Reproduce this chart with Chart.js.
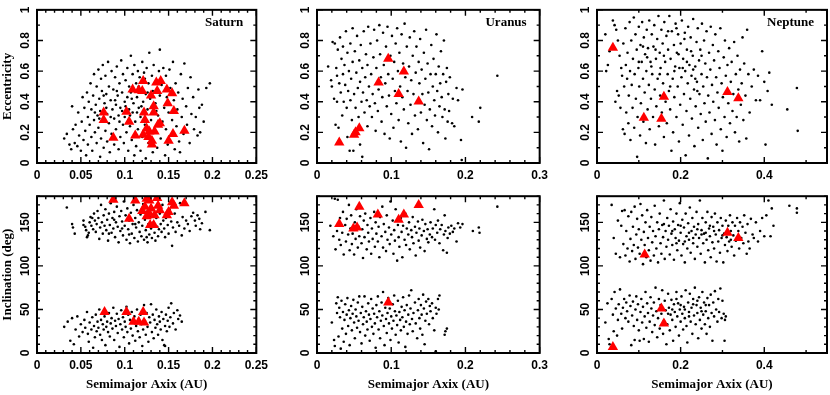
<!DOCTYPE html>
<html lang="en">
<head>
<meta charset="UTF-8">
<title>Irregular satellites: a vs e and i</title>
<script src="https://cdn.jsdelivr.net/npm/chart.js"></script>
<style>
  html, body { margin: 0; padding: 0; background: #fff; }
  #figure { position: relative; width: 830px; height: 395px; overflow: hidden; }
  #figure canvas { position: absolute; }
</style>
</head>
<body>
<div id="figure"></div>
<script>
// ---- tick values ----
const saturnXTicks = [0, 0.05, 0.1, 0.15, 0.2, 0.25];
const uranusXTicks = [0, 0.1, 0.2, 0.3];
const neptuneXTicks = [0, 0.2, 0.4];
const eccTicks = [0, 0.2, 0.4, 0.6, 0.8, 1];
const incTicks = [0, 50, 100, 150];

// ---- Saturn: [a (AU), e] ----
const saturnEccDots = [[0.031,0.16],[0.034,0.19],[0.037,0.12],[0.039,0.09],[0.040,0.37],[0.041,0.22],[0.043,0.13],[0.044,0.25],[0.046,0.11],[0.047,0.33],[0.048,0.18],[0.050,0.08],[0.051,0.27],[0.052,0.43],[0.053,0.15],[0.054,0.36],[0.055,0.21],[0.056,0.05],[0.057,0.46],[0.058,0.30],[0.058,0.12],[0.059,0.40],[0.060,0.25],[0.061,0.52],[0.062,0.17],[0.062,0.35],[0.063,0.08],[0.064,0.44],[0.065,0.28],[0.065,0.58],[0.066,0.20],[0.067,0.38],[0.068,0.13],[0.068,0.50],[0.069,0.31],[0.070,0.61],[0.070,0.23],[0.071,0.42],[0.072,0.04],[0.072,0.34],[0.073,0.55],[0.073,0.16],[0.074,0.47],[0.075,0.27],[0.075,0.64],[0.076,0.10],[0.077,0.39],[0.078,0.21],[0.078,0.57],[0.079,0.45],[0.080,0.32],[0.080,0.14],[0.081,0.66],[0.082,0.50],[0.082,0.26],[0.083,0.07],[0.084,0.41],[0.085,0.60],[0.085,0.19],[0.086,0.35],[0.087,0.48],[0.088,0.29],[0.088,0.12],[0.089,0.56],[0.090,0.38],[0.090,0.22],[0.091,0.63],[0.092,0.44],[0.093,0.31],[0.093,0.09],[0.094,0.52],[0.095,0.17],[0.095,0.36],[0.096,0.67],[0.097,0.46],[0.098,0.25],[0.098,0.58],[0.099,0.13],[0.100,0.40],[0.100,0.30],[0.101,0.54],[0.102,0.20],[0.103,0.62],[0.103,0.43],[0.104,0.08],[0.105,0.35],[0.105,0.50],[0.106,0.24],[0.107,0.70],[0.107,0.46],[0.108,0.15],[0.109,0.58],[0.109,0.33],[0.110,0.39],[0.111,0.05],[0.111,0.64],[0.112,0.27],[0.113,0.52],[0.113,0.11],[0.114,0.43],[0.115,0.22],[0.115,0.60],[0.116,0.36],[0.117,0.56],[0.118,0.08],[0.118,0.30],[0.119,0.48],[0.120,0.66],[0.120,0.17],[0.121,0.40],[0.122,0.59],[0.123,0.25],[0.124,0.45],[0.124,0.03],[0.125,0.62],[0.126,0.35],[0.127,0.13],[0.127,0.52],[0.128,0.72],[0.129,0.42],[0.130,0.28],[0.131,0.57],[0.132,0.07],[0.132,0.47],[0.133,0.64],[0.134,0.20],[0.135,0.39],[0.136,0.54],[0.137,0.10],[0.138,0.31],[0.139,0.60],[0.140,0.74],[0.140,0.44],[0.141,0.16],[0.142,0.51],[0.143,0.27],[0.144,0.62],[0.145,0.36],[0.146,0.05],[0.147,0.57],[0.147,0.22],[0.148,0.43],[0.149,0.12],[0.150,0.33],[0.151,0.61],[0.152,0.49],[0.153,0.18],[0.154,0.28],[0.155,0.66],[0.156,0.41],[0.157,0.09],[0.158,0.52],[0.159,0.24],[0.160,0.35],[0.161,0.46],[0.162,0.14],[0.163,0.07],[0.164,0.58],[0.165,0.30],[0.166,0.42],[0.167,0.19],[0.168,0.65],[0.170,0.37],[0.171,0.25],[0.172,0.49],[0.174,0.13],[0.175,0.56],[0.176,0.32],[0.178,0.43],[0.179,0.22],[0.181,0.30],[0.183,0.18],[0.184,0.48],[0.185,0.36],[0.186,0.20],[0.188,0.38],[0.190,0.27],[0.193,0.49],[0.197,0.52],[0.066,0.33],[0.071,0.29],[0.079,0.36],[0.084,0.30],[0.091,0.47],[0.097,0.34],[0.104,0.28],[0.108,0.42],[0.114,0.33],[0.119,0.37],[0.126,0.46],[0.136,0.34],[0.089,0.41],[0.101,0.37],[0.076,0.44],[0.116,0.50],[0.123,0.55],[0.131,0.37],[0.094,0.27],[0.106,0.31]];
const saturnEccTri = [[0.076,0.33],[0.076,0.28],[0.087,0.165],[0.102,0.334],[0.105,0.27],[0.109,0.48],[0.116,0.475],[0.120,0.47],[0.112,0.18],[0.121,0.535],[0.122,0.33],[0.123,0.28],[0.125,0.225],[0.121,0.185],[0.127,0.17],[0.130,0.44],[0.131,0.145],[0.131,0.12],[0.128,0.205],[0.133,0.37],[0.133,0.33],[0.136,0.525],[0.137,0.47],[0.141,0.535],[0.138,0.25],[0.134,0.205],[0.148,0.48],[0.149,0.39],[0.154,0.455],[0.156,0.34],[0.155,0.19],[0.150,0.145],[0.168,0.21],[0.140,0.26]];

// ---- Saturn: [a (AU), i (deg)] ----
const saturnIncDots = [[0.034,167],[0.040,148],[0.041,144],[0.043,137],[0.053,152],[0.055,145],[0.056,141],[0.058,135],[0.059,138],[0.060,150],[0.061,156],[0.062,146],[0.064,142],[0.065,160],[0.066,152],[0.067,139],[0.068,148],[0.069,163],[0.070,155],[0.071,131],[0.072,144],[0.073,170],[0.074,150],[0.075,137],[0.076,158],[0.077,146],[0.078,165],[0.079,141],[0.080,153],[0.081,129],[0.082,160],[0.083,147],[0.084,172],[0.085,138],[0.086,155],[0.087,143],[0.088,162],[0.089,133],[0.090,150],[0.091,168],[0.092,145],[0.093,127],[0.094,157],[0.095,140],[0.096,163],[0.097,151],[0.098,135],[0.099,174],[0.100,146],[0.101,158],[0.102,130],[0.103,166],[0.104,142],[0.105,152],[0.106,126],[0.107,161],[0.108,137],[0.109,148],[0.110,170],[0.111,132],[0.112,155],[0.113,144],[0.114,164],[0.115,128],[0.116,150],[0.117,139],[0.118,159],[0.119,134],[0.120,146],[0.121,171],[0.122,130],[0.123,153],[0.124,141],[0.125,162],[0.126,127],[0.127,148],[0.128,136],[0.129,157],[0.130,143],[0.131,132],[0.132,166],[0.133,150],[0.134,138],[0.135,129],[0.136,155],[0.137,145],[0.138,134],[0.140,160],[0.141,148],[0.142,139],[0.143,170],[0.144,152],[0.145,143],[0.146,133],[0.148,158],[0.149,147],[0.150,137],[0.151,165],[0.153,151],[0.154,123],[0.155,144],[0.157,160],[0.158,139],[0.160,150],[0.162,146],[0.163,172],[0.165,135],[0.166,156],[0.168,143],[0.170,152],[0.172,148],[0.174,140],[0.176,157],[0.178,161],[0.180,152],[0.181,146],[0.183,158],[0.185,154],[0.186,142],[0.188,149],[0.192,162],[0.197,141],[0.053,147],[0.057,133],[0.063,155],[0.082,137],[0.088,153],[0.097,143],[0.105,136],[0.112,148],[0.125,133],[0.139,142],[0.147,155],
  [0.031,30],[0.035,36],[0.038,14],[0.040,40],[0.042,10],[0.044,27],[0.046,42],[0.048,19],[0.050,33],[0.052,24],[0.054,38],[0.055,29],[0.057,47],[0.058,22],[0.059,13],[0.060,35],[0.062,27],[0.063,41],[0.064,6],[0.065,31],[0.066,18],[0.067,44],[0.068,25],[0.069,36],[0.070,29],[0.071,50],[0.072,21],[0.073,38],[0.074,15],[0.075,33],[0.076,27],[0.077,42],[0.078,9],[0.079,30],[0.080,36],[0.081,24],[0.082,46],[0.083,19],[0.084,34],[0.085,40],[0.086,28],[0.087,52],[0.088,15],[0.089,37],[0.090,31],[0.091,45],[0.092,23],[0.093,39],[0.094,7],[0.095,33],[0.096,49],[0.097,27],[0.098,41],[0.099,18],[0.100,36],[0.101,30],[0.102,53],[0.103,24],[0.104,44],[0.105,11],[0.106,38],[0.107,28],[0.108,47],[0.109,20],[0.110,35],[0.111,42],[0.112,14],[0.113,31],[0.114,50],[0.115,25],[0.116,39],[0.117,18],[0.118,44],[0.119,33],[0.120,8],[0.121,27],[0.122,55],[0.123,37],[0.124,21],[0.125,46],[0.126,30],[0.127,13],[0.128,41],[0.129,35],[0.130,56],[0.131,24],[0.132,44],[0.133,17],[0.134,38],[0.135,29],[0.136,50],[0.137,33],[0.138,21],[0.139,42],[0.140,36],[0.141,27],[0.142,47],[0.143,15],[0.144,39],[0.145,9],[0.146,31],[0.147,44],[0.148,25],[0.149,37],[0.150,52],[0.151,30],[0.152,41],[0.153,57],[0.155,34],[0.156,46],[0.158,27],[0.160,49],[0.161,39],[0.163,43],[0.165,36],[0.146,8]];
const saturnIncTri = [[0.087,176],[0.112,175],[0.105,154],[0.125,177],[0.128,175],[0.137,178],[0.120,163],[0.123,168],[0.130,166],[0.125,157],[0.128,160],[0.134,158],[0.133,147],[0.138,169],[0.140,164],[0.148,158],[0.150,162],[0.154,173],[0.156,169],[0.168,172],[0.129,147],[0.077,47],[0.102,47],[0.121,47],[0.110,36],[0.116,36],[0.122,35]];

// ---- Uranus ----
const uranusEccDots = [[0.015,0.63],[0.019,0.54],[0.020,0.50],[0.021,0.79],[0.023,0.42],[0.024,0.78],[0.025,0.25],[0.026,0.62],[0.027,0.57],[0.027,0.40],[0.028,0.74],[0.029,0.23],[0.030,0.52],[0.031,0.82],[0.032,0.46],[0.033,0.68],[0.034,0.31],[0.035,0.58],[0.035,0.76],[0.036,0.40],[0.037,0.64],[0.038,0.51],[0.039,0.86],[0.040,0.36],[0.041,0.17],[0.041,0.72],[0.042,0.47],[0.043,0.60],[0.044,0.08],[0.045,0.78],[0.045,0.41],[0.046,0.55],[0.047,0.28],[0.048,0.88],[0.048,0.66],[0.049,0.08],[0.050,0.45],[0.051,0.73],[0.052,0.36],[0.053,0.59],[0.054,0.83],[0.055,0.49],[0.056,0.30],[0.057,0.67],[0.058,0.12],[0.058,0.53],[0.059,0.77],[0.060,0.40],[0.061,0.04],[0.061,0.62],[0.062,0.46],[0.063,0.86],[0.064,0.33],[0.065,0.56],[0.066,0.71],[0.067,0.41],[0.068,0.24],[0.068,0.64],[0.069,0.89],[0.070,0.50],[0.071,0.37],[0.072,0.78],[0.073,0.58],[0.074,0.30],[0.075,0.45],[0.076,0.69],[0.077,0.87],[0.078,0.39],[0.079,0.21],[0.080,0.62],[0.081,0.80],[0.082,0.34],[0.083,0.48],[0.084,0.90],[0.085,0.71],[0.086,0.56],[0.087,0.27],[0.088,0.43],[0.089,0.85],[0.090,0.64],[0.091,0.19],[0.092,0.52],[0.093,0.76],[0.094,0.37],[0.095,0.89],[0.096,0.58],[0.097,0.44],[0.098,0.16],[0.099,0.70],[0.100,0.32],[0.101,0.83],[0.102,0.55],[0.103,0.23],[0.104,0.66],[0.105,0.47],[0.106,0.78],[0.107,0.39],[0.108,0.88],[0.109,0.60],[0.110,0.28],[0.111,0.72],[0.112,0.50],[0.113,0.14],[0.114,0.84],[0.115,0.43],[0.116,0.65],[0.117,0.35],[0.118,0.91],[0.119,0.56],[0.120,0.10],[0.121,0.76],[0.122,0.47],[0.123,0.26],[0.124,0.63],[0.125,0.82],[0.126,0.38],[0.127,0.54],[0.128,0.19],[0.129,0.70],[0.130,0.45],[0.131,0.86],[0.132,0.31],[0.133,0.59],[0.134,0.76],[0.135,0.40],[0.136,0.22],[0.137,0.66],[0.138,0.52],[0.139,0.81],[0.140,0.33],[0.141,0.61],[0.142,0.45],[0.143,0.13],[0.144,0.72],[0.145,0.38],[0.146,0.55],[0.147,0.87],[0.148,0.28],[0.149,0.65],[0.150,0.46],[0.151,0.09],[0.152,0.35],[0.153,0.58],[0.154,0.77],[0.155,0.24],[0.156,0.50],[0.157,0.68],[0.158,0.41],[0.159,0.31],[0.160,0.58],[0.161,0.84],[0.162,0.47],[0.163,0.20],[0.164,0.63],[0.165,0.37],[0.166,0.52],[0.167,0.73],[0.168,0.43],[0.169,0.30],[0.170,0.58],[0.171,0.80],[0.172,0.35],[0.173,0.16],[0.174,0.53],[0.175,0.62],[0.176,0.27],[0.177,0.45],[0.178,0.34],[0.179,0.56],[0.182,0.26],[0.183,0.42],[0.185,0.24],[0.188,0.49],[0.190,0.41],[0.194,0.15],[0.196,0.48],[0.209,0.30],[0.218,0.27],[0.220,0.36],[0.243,0.57],[0.195,0.02]];
const uranusEccTri = [[0.030,0.134],[0.050,0.185],[0.052,0.20],[0.057,0.227],[0.083,0.526],[0.096,0.68],[0.117,0.598],[0.110,0.45],[0.137,0.402]];

const uranusIncDots = [[0.018,146],[0.022,134],[0.024,177],[0.025,119],[0.027,140],[0.028,176],[0.030,130],[0.031,155],[0.032,124],[0.034,138],[0.035,162],[0.036,113],[0.038,147],[0.039,128],[0.040,154],[0.042,136],[0.043,170],[0.044,118],[0.045,143],[0.046,158],[0.047,125],[0.048,137],[0.050,113],[0.051,150],[0.052,131],[0.053,165],[0.055,121],[0.056,145],[0.057,134],[0.058,157],[0.060,126],[0.061,142],[0.062,109],[0.063,152],[0.064,133],[0.065,160],[0.067,119],[0.068,147],[0.069,138],[0.070,128],[0.072,155],[0.073,114],[0.074,143],[0.075,131],[0.077,162],[0.078,122],[0.079,150],[0.080,137],[0.082,128],[0.083,145],[0.084,110],[0.085,156],[0.087,134],[0.088,168],[0.089,121],[0.090,148],[0.092,139],[0.093,117],[0.094,158],[0.095,130],[0.097,144],[0.098,125],[0.099,174],[0.100,136],[0.102,152],[0.103,114],[0.104,141],[0.105,129],[0.106,165],[0.108,106],[0.109,147],[0.110,133],[0.111,122],[0.113,155],[0.114,139],[0.115,110],[0.116,146],[0.118,130],[0.119,160],[0.120,124],[0.121,143],[0.123,136],[0.124,150],[0.125,119],[0.127,141],[0.128,133],[0.129,156],[0.130,126],[0.132,145],[0.133,112],[0.134,138],[0.136,151],[0.137,129],[0.138,143],[0.139,121],[0.141,135],[0.142,153],[0.144,140],[0.145,117],[0.146,148],[0.148,131],[0.149,142],[0.150,127],[0.152,136],[0.153,150],[0.155,133],[0.156,143],[0.158,165],[0.159,130],[0.160,147],[0.162,138],[0.163,152],[0.165,126],[0.166,142],[0.168,147],[0.170,118],[0.171,136],[0.172,158],[0.173,140],[0.175,115],[0.176,132],[0.177,144],[0.179,137],[0.181,146],[0.183,139],[0.185,143],[0.188,128],[0.190,149],[0.193,144],[0.196,148],[0.210,140],[0.218,144],[0.219,138],[0.243,168],
  [0.020,35],[0.023,15],[0.024,8],[0.026,57],[0.027,46],[0.028,64],[0.029,19],[0.030,52],[0.031,41],[0.032,5],[0.033,60],[0.034,28],[0.035,47],[0.036,13],[0.037,38],[0.038,56],[0.039,22],[0.040,44],[0.041,63],[0.042,31],[0.043,49],[0.044,9],[0.045,40],[0.046,54],[0.047,26],[0.048,45],[0.049,61],[0.050,35],[0.051,17],[0.052,50],[0.053,42],[0.054,29],[0.055,58],[0.056,37],[0.057,65],[0.058,24],[0.059,46],[0.060,11],[0.061,53],[0.062,33],[0.063,41],[0.064,65],[0.065,20],[0.066,48],[0.067,36],[0.068,27],[0.069,57],[0.070,44],[0.071,14],[0.072,39],[0.073,62],[0.074,30],[0.075,51],[0.076,22],[0.077,45],[0.078,34],[0.079,6],[0.080,55],[0.081,41],[0.082,65],[0.083,27],[0.084,48],[0.085,17],[0.086,37],[0.087,58],[0.088,43],[0.089,70],[0.090,31],[0.091,9],[0.092,52],[0.093,39],[0.094,23],[0.095,46],[0.096,63],[0.097,34],[0.098,51],[0.099,15],[0.100,42],[0.101,28],[0.102,56],[0.103,37],[0.104,66],[0.105,48],[0.106,21],[0.107,43],[0.108,32],[0.109,60],[0.110,12],[0.111,47],[0.112,38],[0.113,26],[0.114,53],[0.115,41],[0.116,64],[0.117,30],[0.118,49],[0.119,7],[0.120,36],[0.121,55],[0.122,22],[0.123,44],[0.124,66],[0.125,33],[0.126,51],[0.127,72],[0.128,39],[0.129,25],[0.130,46],[0.132,58],[0.133,34],[0.135,17],[0.136,49],[0.137,62],[0.138,40],[0.139,28],[0.140,55],[0.141,44],[0.142,21],[0.143,67],[0.144,51],[0.145,10],[0.146,37],[0.147,59],[0.148,45],[0.150,62],[0.151,33],[0.152,54],[0.153,48],[0.155,57],[0.156,40],[0.158,26],[0.160,52],[0.161,45],[0.163,62],[0.164,50],[0.165,66],[0.172,21],[0.173,25],[0.175,28],[0.160,2]];
const uranusIncTri = [[0.030,148],[0.057,168],[0.049,143],[0.054,144],[0.082,159],[0.110,153],[0.117,159],[0.137,170],[0.096,58]];

// ---- Neptune ----
const neptuneEccDots = [[0.020,0.84],[0.022,0.60],[0.026,0.64],[0.030,0.73],[0.038,0.93],[0.042,0.90],[0.044,0.40],[0.046,0.87],[0.048,0.47],[0.050,0.80],[0.052,0.44],[0.054,0.70],[0.056,0.36],[0.058,0.62],[0.060,0.57],[0.062,0.22],[0.063,0.78],[0.065,0.50],[0.066,0.19],[0.068,0.88],[0.069,0.64],[0.070,0.33],[0.072,0.55],[0.073,0.72],[0.075,0.26],[0.076,0.44],[0.078,0.92],[0.079,0.60],[0.080,0.15],[0.082,0.80],[0.083,0.51],[0.085,0.36],[0.086,0.68],[0.088,0.95],[0.089,0.23],[0.090,0.58],[0.092,0.84],[0.093,0.42],[0.095,0.74],[0.096,0.04],[0.097,0.30],[0.099,0.62],[0.100,0.89],[0.101,0.50],[0.103,0.18],[0.104,0.77],[0.105,0.39],[0.107,0.66],[0.108,0.92],[0.110,0.55],[0.111,0.27],[0.112,0.82],[0.114,0.46],[0.115,0.71],[0.117,0.13],[0.118,0.60],[0.119,0.87],[0.121,0.35],[0.122,0.75],[0.124,0.51],[0.125,0.93],[0.126,0.22],[0.128,0.66],[0.129,0.42],[0.131,0.84],[0.132,0.58],[0.134,0.30],[0.135,0.76],[0.137,0.90],[0.138,0.48],[0.139,0.12],[0.141,0.68],[0.142,0.37],[0.144,0.81],[0.145,0.55],[0.147,0.96],[0.148,0.24],[0.150,0.72],[0.151,0.44],[0.152,0.62],[0.154,0.87],[0.155,0.33],[0.157,0.78],[0.158,0.52],[0.160,0.17],[0.161,0.92],[0.163,0.66],[0.164,0.40],[0.166,0.83],[0.167,0.26],[0.169,0.58],[0.170,0.74],[0.172,0.47],[0.173,0.96],[0.175,0.35],[0.176,0.68],[0.178,0.08],[0.179,0.86],[0.181,0.55],[0.182,0.20],[0.184,0.77],[0.185,0.43],[0.187,0.63],[0.188,0.91],[0.190,0.30],[0.191,0.72],[0.193,0.50],[0.194,0.84],[0.196,0.14],[0.197,0.62],[0.199,0.38],[0.200,0.78],[0.202,0.56],[0.203,0.93],[0.205,0.25],[0.206,0.68],[0.208,0.45],[0.209,0.81],[0.211,0.60],[0.212,0.05],[0.214,0.34],[0.215,0.74],[0.217,0.52],[0.218,0.89],[0.220,0.18],[0.221,0.64],[0.223,0.42],[0.224,0.82],[0.226,0.57],[0.227,0.29],[0.229,0.70],[0.230,0.94],[0.232,0.48],[0.233,0.11],[0.235,0.63],[0.236,0.37],[0.238,0.79],[0.239,0.53],[0.241,0.88],[0.242,0.23],[0.244,0.67],[0.245,0.45],[0.247,0.74],[0.248,0.32],[0.250,0.58],[0.251,0.91],[0.253,0.15],[0.254,0.50],[0.256,0.80],[0.257,0.39],[0.259,0.65],[0.260,0.27],[0.262,0.86],[0.263,0.56],[0.265,0.03],[0.266,0.44],[0.268,0.72],[0.269,0.33],[0.271,0.61],[0.272,0.89],[0.274,0.19],[0.275,0.51],[0.277,0.77],[0.278,0.40],[0.280,0.67],[0.282,0.28],[0.283,0.84],[0.285,0.56],[0.286,0.12],[0.288,0.46],[0.290,0.73],[0.291,0.36],[0.293,0.62],[0.295,0.88],[0.296,0.22],[0.298,0.52],[0.300,0.08],[0.301,0.43],[0.303,0.69],[0.305,0.30],[0.306,0.80],[0.308,0.57],[0.310,0.17],[0.312,0.64],[0.314,0.39],[0.316,0.75],[0.318,0.26],[0.320,0.53],[0.322,0.66],[0.324,0.34],[0.326,0.45],[0.328,0.79],[0.330,0.20],[0.332,0.58],[0.334,0.30],[0.336,0.70],[0.338,0.48],[0.340,0.14],[0.342,0.61],[0.344,0.38],[0.346,0.52],[0.348,0.82],[0.350,0.28],[0.352,0.65],[0.355,0.44],[0.357,0.16],[0.359,0.87],[0.362,0.58],[0.365,0.33],[0.370,0.50],[0.375,0.61],[0.380,0.41],[0.385,0.57],[0.390,0.41],[0.395,0.73],[0.400,0.53],[0.403,0.12],[0.408,0.47],[0.412,0.59],[0.418,0.38],[0.455,0.35],[0.478,0.49],[0.480,0.21],[0.150,0.58],[0.160,0.70],[0.175,0.50],[0.185,0.60],[0.195,0.71],[0.205,0.62],[0.215,0.66],[0.225,0.73],[0.230,0.61],[0.235,0.55],[0.240,0.47],[0.250,0.70],[0.210,0.85],[0.190,0.88],[0.170,0.86],[0.140,0.74],[0.130,0.63],[0.120,0.69],[0.110,0.76],[0.100,0.66]];
const neptuneEccTri = [[0.038,0.753],[0.112,0.295],[0.154,0.289],[0.160,0.433],[0.312,0.464],[0.338,0.423]];

const neptuneIncDots = [[0.035,170],[0.040,132],[0.045,114],[0.050,152],[0.055,110],[0.058,146],[0.060,163],[0.063,125],[0.066,164],[0.068,112],[0.070,140],[0.073,120],[0.075,157],[0.078,105],[0.080,131],[0.082,162],[0.084,117],[0.086,145],[0.088,124],[0.090,168],[0.092,108],[0.094,136],[0.096,154],[0.098,121],[0.100,142],[0.102,114],[0.104,171],[0.106,130],[0.108,158],[0.110,102],[0.112,139],[0.114,124],[0.116,150],[0.118,110],[0.120,164],[0.122,132],[0.124,118],[0.126,145],[0.128,106],[0.130,156],[0.132,127],[0.134,140],[0.136,112],[0.138,169],[0.140,134],[0.142,120],[0.144,150],[0.146,104],[0.148,142],[0.150,160],[0.152,126],[0.154,114],[0.156,147],[0.158,133],[0.160,175],[0.162,108],[0.164,140],[0.166,122],[0.168,155],[0.170,130],[0.172,146],[0.174,113],[0.176,165],[0.178,137],[0.180,124],[0.182,151],[0.184,107],[0.186,142],[0.188,132],[0.190,160],[0.192,118],[0.194,147],[0.196,129],[0.198,172],[0.200,138],[0.202,112],[0.204,153],[0.206,125],[0.208,144],[0.210,104],[0.212,160],[0.214,134],[0.216,120],[0.218,149],[0.220,130],[0.222,167],[0.224,115],[0.226,140],[0.228,155],[0.230,126],[0.232,145],[0.234,108],[0.236,136],[0.238,162],[0.240,122],[0.242,148],[0.244,132],[0.246,175],[0.248,114],[0.250,141],[0.252,155],[0.254,126],[0.256,137],[0.258,104],[0.260,150],[0.262,130],[0.264,162],[0.266,118],[0.268,143],[0.270,134],[0.272,110],[0.274,156],[0.276,127],[0.278,145],[0.280,120],[0.282,160],[0.284,136],[0.286,105],[0.288,150],[0.290,128],[0.292,141],[0.294,115],[0.296,155],[0.298,132],[0.300,146],[0.302,104],[0.304,137],[0.306,124],[0.308,152],[0.310,133],[0.312,117],[0.314,146],[0.316,128],[0.318,158],[0.320,140],[0.322,122],[0.324,150],[0.326,135],[0.328,112],[0.330,146],[0.332,129],[0.335,155],[0.338,140],[0.340,120],[0.342,150],[0.345,132],[0.348,145],[0.350,126],[0.352,158],[0.355,138],[0.358,114],[0.360,148],[0.362,128],[0.365,120],[0.368,154],[0.372,136],[0.375,132],[0.380,150],[0.385,128],[0.390,140],[0.395,155],[0.400,134],[0.405,158],[0.410,175],[0.415,134],[0.418,166],[0.422,146],[0.460,169],[0.478,166],[0.478,161],[0.160,148],[0.180,140],[0.200,146],[0.220,138],[0.240,142],[0.260,138],[0.280,140],[0.300,135],[0.320,130],[0.190,126],[0.210,128],[0.230,132],[0.250,136],[0.270,146],
  [0.020,35],[0.025,57],[0.028,16],[0.030,10],[0.035,62],[0.038,44],[0.040,25],[0.042,70],[0.045,51],[0.048,20],[0.050,38],[0.052,56],[0.055,73],[0.058,45],[0.060,28],[0.062,52],[0.065,62],[0.068,40],[0.070,58],[0.072,48],[0.075,36],[0.078,66],[0.080,54],[0.082,9],[0.084,43],[0.086,59],[0.088,31],[0.090,15],[0.092,50],[0.094,65],[0.096,38],[0.098,56],[0.100,26],[0.102,14],[0.104,47],[0.106,62],[0.108,35],[0.110,53],[0.112,16],[0.114,42],[0.116,70],[0.118,29],[0.120,57],[0.122,46],[0.124,13],[0.126,36],[0.128,64],[0.130,51],[0.132,24],[0.134,43],[0.136,58],[0.138,32],[0.140,75],[0.142,48],[0.144,18],[0.146,40],[0.148,62],[0.150,28],[0.152,55],[0.154,45],[0.156,72],[0.158,22],[0.160,37],[0.162,60],[0.164,49],[0.166,10],[0.168,33],[0.170,68],[0.172,52],[0.174,26],[0.176,44],[0.178,61],[0.180,38],[0.182,14],[0.184,56],[0.186,47],[0.188,30],[0.190,70],[0.192,42],[0.194,57],[0.196,20],[0.198,50],[0.200,36],[0.202,65],[0.204,45],[0.206,27],[0.208,53],[0.210,40],[0.212,72],[0.214,31],[0.216,12],[0.218,58],[0.220,47],[0.222,68],[0.224,36],[0.226,52],[0.228,22],[0.230,62],[0.232,43],[0.234,75],[0.236,33],[0.238,55],[0.240,46],[0.242,17],[0.244,64],[0.246,38],[0.248,52],[0.250,28],[0.252,70],[0.254,44],[0.256,58],[0.258,33],[0.260,48],[0.262,22],[0.264,63],[0.266,40],[0.268,55],[0.270,30],[0.272,67],[0.274,46],[0.276,14],[0.278,58],[0.280,42],[0.282,71],[0.285,50],[0.288,36],[0.290,62],[0.292,47],[0.295,74],[0.298,40],[0.300,60],[0.303,45],[0.306,38],[0.308,42],[0.305,14],[0.200,55],[0.210,50],[0.220,42],[0.230,56],[0.240,60],[0.250,48],[0.180,50],[0.170,45],[0.190,62],[0.260,55]];
const neptuneIncTri = [[0.038,7],[0.114,113],[0.154,51],[0.160,34],[0.312,138],[0.338,132]];

// ---- panel layout ----
const panels = [
  { left: 37,  top: 3,   w: 230, h: 160, xh: 30, xmax: 0.25, xTicks: saturnXTicks,  xMinor: 0.01, ymax: 1,   yTicks: eccTicks, yMinor: 0.1, dots: saturnEccDots,  tri: saturnEccTri,  name: 'Saturn',  yTitle: 'Eccentricity' },
  { left: 317, top: 3,   w: 230, h: 160, xh: 30, xmax: 0.3,  xTicks: uranusXTicks,  xMinor: 0.02, ymax: 1,   yTicks: eccTicks, yMinor: 0.1, dots: uranusEccDots,  tri: uranusEccTri,  name: 'Uranus' },
  { left: 597, top: 3,   w: 230, h: 160, xh: 30, xmax: 0.55, xTicks: neptuneXTicks, xMinor: 0.1,  ymax: 1,   yTicks: eccTicks, yMinor: 0.1, dots: neptuneEccDots, tri: neptuneEccTri, name: 'Neptune' },
  { left: 37,  top: 191, w: 230, h: 162, xh: 42, xmax: 0.25, xTicks: saturnXTicks,  xMinor: 0.01, ymax: 180, yTicks: incTicks, yMinor: 10,  dots: saturnIncDots,  tri: saturnIncTri,  yTitle: 'Inclination (deg)', xTitle: 'Semimajor Axix (AU)' },
  { left: 317, top: 191, w: 230, h: 162, xh: 42, xmax: 0.3,  xTicks: uranusXTicks,  xMinor: 0.02, ymax: 180, yTicks: incTicks, yMinor: 10,  dots: uranusIncDots,  tri: uranusIncTri,  xTitle: 'Semimajor Axix (AU)' },
  { left: 597, top: 191, w: 230, h: 162, xh: 42, xmax: 0.55, xTicks: neptuneXTicks, xMinor: 0.1,  ymax: 180, yTicks: incTicks, yMinor: 10,  dots: neptuneIncDots, tri: neptuneIncTri, xTitle: 'Semimajor Axix (AU)' }
];

const labelFont = 'bold 13px "Liberation Serif", serif';
const tickFont = { family: '"Liberation Sans", Arial, sans-serif', weight: 'bold', size: 12 };

// frame with inward major/minor ticks on all four sides, plus panel texts
const frameTicks = {
  id: 'frameTicks',
  afterDatasetsDraw(chart, args, o) {
    const { ctx, chartArea: a, scales: { x, y } } = chart;
    ctx.save();
    ctx.strokeStyle = '#000';
    ctx.lineWidth = 1.4;
    ctx.beginPath();
    for (let k = 0; k * o.xMinor <= x.max + 1e-9; k++) {
      const v = k * o.xMinor;
      const major = o.xTicks.some(t => Math.abs(t - v) < 1e-9);
      const len = major ? 6 : 3;
      const px = x.getPixelForValue(v);
      ctx.moveTo(px, a.bottom); ctx.lineTo(px, a.bottom - len);
      ctx.moveTo(px, a.top); ctx.lineTo(px, a.top + len);
    }
    for (let k = 0; k * o.yMinor <= y.max + 1e-9; k++) {
      const v = k * o.yMinor;
      const major = o.yTicks.some(t => Math.abs(t - v) < 1e-9);
      const len = major ? 6 : 3;
      const py = y.getPixelForValue(v);
      ctx.moveTo(a.left, py); ctx.lineTo(a.left + len, py);
      ctx.moveTo(a.right, py); ctx.lineTo(a.right - len, py);
    }
    ctx.stroke();
    ctx.lineWidth = 2;
    ctx.strokeRect(a.left, a.top, a.right - a.left, a.bottom - a.top);

    ctx.fillStyle = '#000';
    ctx.font = labelFont;
    if (o.name) {
      ctx.textAlign = 'right';
      ctx.textBaseline = 'middle';
      ctx.fillText(o.name, a.right - 13, a.top + 13);
    }
    if (o.xTitle) {
      ctx.textAlign = 'center';
      ctx.textBaseline = 'middle';
      ctx.fillText(o.xTitle, (a.left + a.right) / 2, a.bottom + 32);
    }
    if (o.yTitle) {
      ctx.translate(8, (a.top + a.bottom) / 2);
      ctx.rotate(-Math.PI / 2);
      ctx.textAlign = 'center';
      ctx.textBaseline = 'middle';
      ctx.fillText(o.yTitle, 0, 0);
    }
    ctx.restore();
  }
};

const fig = document.getElementById('figure');
const padL = 37, padT = 3, padR = 6;

panels.forEach(p => {
  const cv = document.createElement('canvas');
  cv.width = padL + p.w + padR;
  cv.height = padT + p.h + p.xh;
  cv.style.left = (p.left - padL) + 'px';
  cv.style.top = (p.top - padT) + 'px';
  fig.appendChild(cv);

  const widest = p.ymax > 1 ? 20 : 16.7;

  new Chart(cv, {
    type: 'scatter',
    data: {
      datasets: [
        {
          data: p.tri.map(([a, v]) => ({ x: a, y: v })),
          pointStyle: 'triangle',
          pointRadius: 6,
          backgroundColor: '#ff0000',
          borderWidth: 0
        },
        {
          data: p.dots.map(([a, v]) => ({ x: a, y: v })),
          pointStyle: 'circle',
          pointRadius: 1.3,
          backgroundColor: '#000',
          borderWidth: 0
        }
      ]
    },
    options: {
      responsive: false,
      animation: false,
      events: [],
      layout: { padding: { left: 0, top: padT, right: padR, bottom: 0 } },
      plugins: {
        legend: { display: false },
        tooltip: { enabled: false },
        frameTicks: { xTicks: p.xTicks, xMinor: p.xMinor, yTicks: p.yTicks, yMinor: p.yMinor, name: p.name, xTitle: p.xTitle, yTitle: p.yTitle }
      },
      scales: {
        x: {
          type: 'linear', min: 0, max: p.xmax,
          grid: { display: false, drawTicks: false },
          border: { display: false },
          afterBuildTicks: s => { s.ticks = p.xTicks.map(v => ({ value: v })); },
          afterFit: s => { s.height = p.xh; },
          ticks: { color: '#000', font: tickFont, padding: 5, maxRotation: 0, autoSkip: false,
                   callback: v => String(+v.toFixed(3)) }
        },
        y: {
          type: 'linear', min: 0, max: p.ymax,
          grid: { display: false, drawTicks: false },
          border: { display: false },
          afterBuildTicks: s => { s.ticks = p.yTicks.map(v => ({ value: v })); },
          afterFit: s => { s.width = padL; },
          ticks: { color: '#000', font: tickFont, minRotation: 90, maxRotation: 90, crossAlign: 'center',
                   padding: 11 - widest / 2, autoSkip: false,
                   callback: v => String(+v.toFixed(3)) }
        }
      }
    },
    plugins: [frameTicks]
  });
});
</script>
</body>
</html>
